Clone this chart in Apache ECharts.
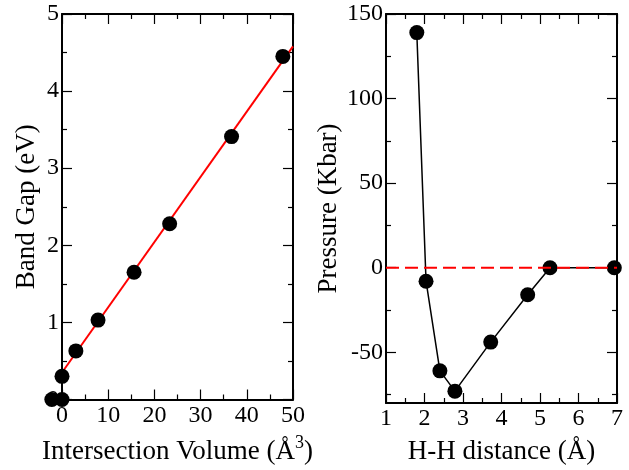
<!DOCTYPE html>
<html>
<head>
<meta charset="utf-8">
<script src="https://cdn.jsdelivr.net/npm/echarts@6/dist/echarts.min.js"></script>
<style>html,body{margin:0;padding:0;background:#fff}#c{width:629px;height:470px}</style>
</head>
<body>
<div id="c"></div>
<script>
// Left panel: band gap vs intersection volume
const volumeX = [-2.2, 0, 0, 3.0, 7.8, 15.6, 23.3, 36.7, 47.8];
const bandGapY = [0, 0, 0.3, 0.63, 1.03, 1.65, 2.28, 3.41, 4.45];
const fitX = [0, 50];
const fitY = [0.35, 4.58];
// Right panel: pressure vs H-H distance
const distanceX = [1.80, 2.04, 2.40, 2.79, 3.72, 4.68, 5.26, 6.93];
const pressureY = [139, -8, -61, -73, -44, -16, 0, 0];
const zeroLineX = [1, 7];
const zeroLineY = [0, 0];
// Pressure axis ticks
const pressureTicks = [-50, 0, 50, 100, 150];
const pressureMinorTicks = [-75, -25, 25, 75, 125];

const FONT = '"Liberation Serif", "Times New Roman", Times, serif';
const TICK_FS = 24;
const TITLE_FS = 27;
const pairs = (xs, ys) => xs.map((x, i) => [x, ys[i]]);

function axis(opts) {
  const o = Object.assign({
    type: 'value',
    axisLine: { show: true, onZero: false, lineStyle: { color: '#000', width: 2 } },
    axisTick: { show: true, inside: true, length: 10, lineStyle: { color: '#000', width: 1.2 } },
    minorTick: { show: true, splitNumber: 2, length: 5, lineStyle: { color: '#000', width: 1.2 } },
    splitLine: { show: false },
    minorSplitLine: { show: false },
    axisLabel: { show: true, color: '#000', fontFamily: FONT, fontSize: TICK_FS, margin: 4 },
    nameTextStyle: { color: '#000', fontFamily: FONT, fontSize: TITLE_FS }
  }, opts);
  if (opts.noLabel) { o.axisLabel = { show: false }; delete o.noLabel; }
  return o;
}

function pressureAxis(position, withLabels) {
  return axis({
    gridIndex: 1, position: position, min: -80, max: 150,
    axisTick: { show: true, inside: true, length: 10, customValues: pressureTicks, lineStyle: { color: '#000', width: 1.2 } },
    minorTick: { show: false },
    axisLabel: withLabels
      ? { show: true, color: '#000', fontFamily: FONT, fontSize: TICK_FS, margin: 3, customValues: pressureTicks }
      : { show: false },
    name: withLabels ? 'Pressure (Kbar)' : '', nameLocation: 'middle', nameGap: 44
  });
}
function pressureMinorAxis(position) {
  return axis({
    gridIndex: 1, position: position, min: -80, max: 150,
    axisLine: { show: false, onZero: false },
    axisTick: { show: true, inside: true, length: 5, customValues: pressureMinorTicks, lineStyle: { color: '#000', width: 1.2 } },
    minorTick: { show: false },
    axisLabel: { show: false }
  });
}

const option = {
  animation: false,
  backgroundColor: '#fff',
  grid: [
    { left: 62, top: 14, width: 231, height: 390, containLabel: false },
    { left: 386, top: 14, width: 231, height: 390, containLabel: false }
  ],
  xAxis: [
    axis({ gridIndex: 0, position: 'bottom', min: 0, max: 50, interval: 10,
      name: '{n|Intersection Volume (Å}{s|3}{n|)}', nameLocation: 'middle', nameGap: 35,
      nameTextStyle: { rich: {
        n: { color: '#000', fontFamily: FONT, fontSize: TITLE_FS },
        s: { color: '#000', fontFamily: FONT, fontSize: 18, verticalAlign: 'top', padding: [0, 0, 16, 0] }
      } } }),
    axis({ gridIndex: 0, position: 'top', min: 0, max: 50, interval: 10, noLabel: true }),
    axis({ gridIndex: 1, position: 'bottom', min: 1, max: 7, interval: 1,
      name: 'H-H distance (Å)', nameLocation: 'middle', nameGap: 35 }),
    axis({ gridIndex: 1, position: 'top', min: 1, max: 7, interval: 1, noLabel: true })
  ],
  yAxis: [
    axis({ gridIndex: 0, position: 'left', min: 0, max: 5, interval: 1,
      axisLabel: { show: true, color: '#000', fontFamily: FONT, fontSize: TICK_FS, margin: 3 },
      name: 'Band Gap (eV)', nameLocation: 'middle', nameGap: 22 }),
    axis({ gridIndex: 0, position: 'right', min: 0, max: 5, interval: 1, noLabel: true }),
    pressureAxis('left', true),
    pressureAxis('right', false),
    pressureMinorAxis('left'),
    pressureMinorAxis('right')
  ],
  series: [
    { type: 'line', xAxisIndex: 0, yAxisIndex: 0, data: pairs(fitX, fitY), showSymbol: false,
      lineStyle: { color: '#ff0000', width: 2 }, z: 3 },
    { type: 'scatter', xAxisIndex: 0, yAxisIndex: 0, data: pairs(volumeX, bandGapY), clip: false,
      symbol: 'circle', symbolSize: 15, itemStyle: { color: '#000', opacity: 1 }, z: 4 },
    { type: 'line', xAxisIndex: 2, yAxisIndex: 2, data: pairs(distanceX, pressureY), clip: false,
      symbol: 'circle', symbolSize: 15, showAllSymbol: true,
      lineStyle: { color: '#000', width: 1.5 }, itemStyle: { color: '#000', opacity: 1 }, z: 3 },
    { type: 'line', xAxisIndex: 2, yAxisIndex: 2, data: pairs(zeroLineX, zeroLineY), showSymbol: false,
      lineStyle: { color: '#ff0000', width: 2, type: [13, 6] }, z: 5 }
  ]
};
const chart = echarts.init(document.getElementById('c'), null, { renderer: 'canvas' });
chart.setOption(option);
</script>
</body>
</html>
